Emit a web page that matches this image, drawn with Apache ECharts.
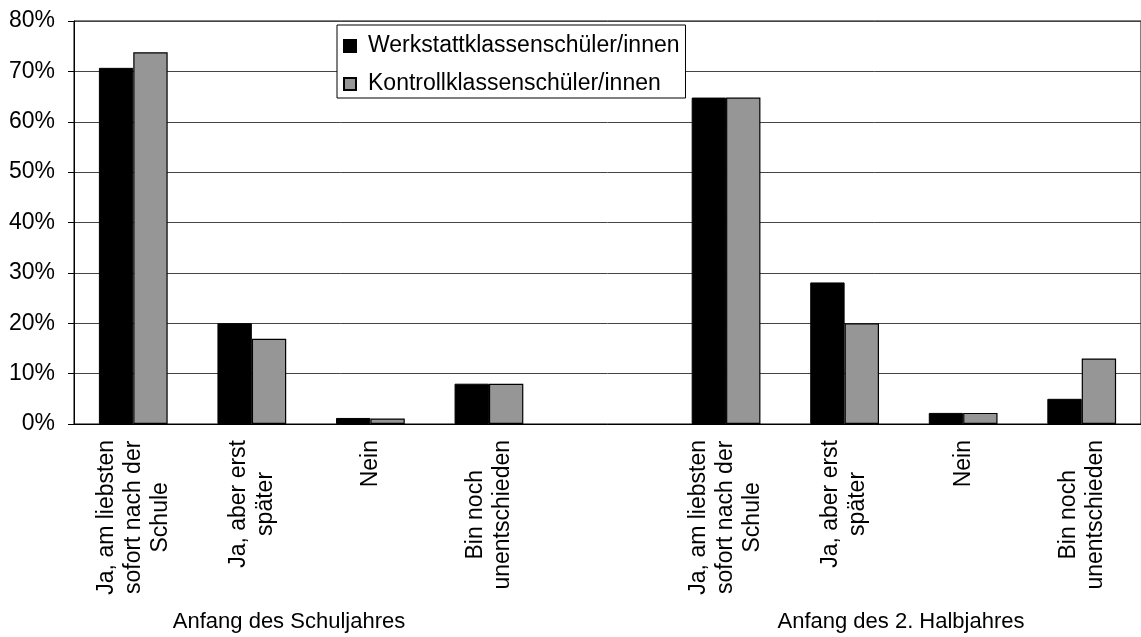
<!DOCTYPE html>
<html>
<head>
<meta charset="utf-8">
<script src="https://cdn.jsdelivr.net/npm/echarts@6/dist/echarts.min.js"></script>
<style>
html,body{margin:0;padding:0;background:#fff;}
#chart{width:1141px;height:637px;}
</style>
</head>
<body>
<div id="chart"></div>
<script>
const categories = [
  'Ja, am liebsten\nsofort nach der\nSchule',
  'Ja, aber erst\nspäter',
  'Nein',
  'Bin noch\nunentschieden',
  '',
  'Ja, am liebsten\nsofort nach der\nSchule',
  'Ja, aber erst\nspäter',
  'Nein',
  'Bin noch\nunentschieden'
];
const seriesNames = ['Werkstattklassenschüler/innen', 'Kontrollklassenschüler/innen'];
const werkstatt = [70.7, 20, 1.2, 8, null, 64.8, 28.1, 2.2, 5];
const kontroll  = [73.8, 16.9, 1.1, 8, null, 64.8, 20, 2.2, 13];
const groupTitles = ['Anfang des Schuljahres', 'Anfang des 2. Halbjahres'];
const yTicks = [0, 10, 20, 30, 40, 50, 60, 70, 80];

const FONT = 'Liberation Sans, Arial, sans-serif';
const FS = 23;
const chart = echarts.init(document.getElementById('chart'), null, {renderer: 'canvas'});

const option = {
  backgroundColor: '#fff',
  animation: false,
  textStyle: {fontFamily: FONT, color: '#000'},
  grid: {left: 74, right: -9, top: 21, bottom: 213, show: true, borderColor: '#000', borderWidth: 1, backgroundColor: '#fff'},
  legend: {
    orient: 'vertical',
    left: 337, top: 25,
    padding: [8, 6, 1, 6],
    itemGap: 12,
    itemWidth: 12, itemHeight: 12,
    backgroundColor: '#fff',
    borderColor: '#000', borderWidth: 1, borderRadius: 0,
    icon: 'rect',
    textStyle: {fontFamily: FONT, fontSize: FS, color: '#000', padding: [0, 0, 0, 7], lineHeight: 26},
    data: seriesNames
  },
  xAxis: {
    type: 'category',
    data: categories,
    axisLine: {lineStyle: {color: '#000', width: 1}},
    axisTick: {show: false},
    axisLabel: {
      interval: 0,
      rotate: 90,
      margin: 16,
      fontFamily: FONT, fontSize: FS, color: '#000',
      lineHeight: 27,
      formatter: function (v) {
        if (!v) return '';
        return v.split('\n').map(l => '{c|' + l + '}').join('\n');
      },
      rich: {c: {align: 'center', fontFamily: FONT, fontSize: FS, color: '#000', lineHeight: 27}}
    },
    splitLine: {show: false}
  },
  yAxis: {
    type: 'value',
    min: yTicks[0], max: yTicks[yTicks.length - 1], interval: 10,
    axisLine: {show: true, lineStyle: {color: '#000', width: 1}},
    axisTick: {show: true, inside: false, length: 6, lineStyle: {color: '#000'}},
    axisLabel: {formatter: '{value}%', fontFamily: FONT, fontSize: FS, color: '#000', margin: 19},
    splitLine: {show: true, lineStyle: {color: '#444', width: 1}}
  },
  series: [
    {
      name: seriesNames[0], type: 'bar', data: werkstatt,
      barWidth: '29%', barGap: '0%',
      itemStyle: {color: '#000', borderColor: '#000', borderWidth: 1}
    },
    {
      name: seriesNames[1], type: 'bar', data: kontroll,
      barWidth: '29%', barGap: '0%',
      itemStyle: {color: '#969696', borderColor: '#000', borderWidth: 1.2}
    }
  ],
  graphic: [
    {type: 'text', x: 289, y: 622, style: {text: groupTitles[0], font: '22px ' + FONT, fill: '#000', textAlign: 'center', textVerticalAlign: 'middle'}},
    {type: 'text', x: 901, y: 622, style: {text: groupTitles[1], font: '22px ' + FONT, fill: '#000', textAlign: 'center', textVerticalAlign: 'middle'}}
  ]
};
chart.setOption(option);
</script>
</body>
</html>
